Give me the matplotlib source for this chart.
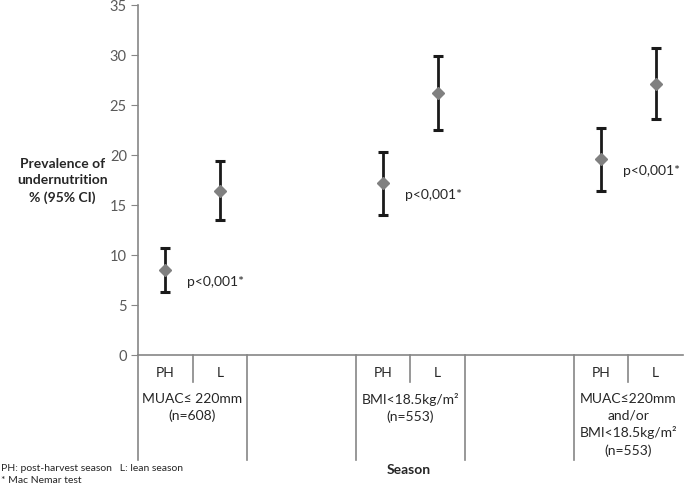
import matplotlib.pyplot as plt
import matplotlib.transforms as mtransforms

plt.rcParams["font.family"] = ["Lato", "DejaVu Sans"]

# slot positions along the x axis (10 equal slots, blanks between groups)
positions = [0, 1, 4, 5, 8, 9]
seasons = ["PH", "L", "PH", "L", "PH", "L"]
prevalence = [8.5, 16.4, 17.2, 26.2, 19.6, 27.1]
ci_low = [6.3, 13.5, 14.0, 22.5, 16.4, 23.6]
ci_high = [10.7, 19.4, 20.3, 29.9, 22.7, 30.7]

group_labels = ["MUAC\u2264 220mm\n(n=608)",
                "BMI<18.5kg/m\u00b2\n(n=553)",
                "MUAC\u2264220mm\nand/or\nBMI<18.5kg/m\u00b2\n(n=553)"]
group_centers = [0.5, 4.5, 8.5]
p_labels = ["p<0,001*", "p<0,001*", "p<0,001*"]
p_at = [0, 2, 4]  # index of the PH point each p-value sits next to

grey = "#595959"
axis_grey = "#868686"

fig = plt.figure(figsize=(6.85, 4.85), dpi=100)
ax = fig.add_axes([0.2015, 0.2666, 0.7955, 0.7216])

err_lo = [p - l for p, l in zip(prevalence, ci_low)]
err_hi = [h - p for p, h in zip(prevalence, ci_high)]
ax.errorbar(positions, prevalence, yerr=[err_lo, err_hi], fmt="D",
            color="#808080", ms=6, ecolor="#1a1a1a", elinewidth=2.0,
            capsize=3.5, capthick=2.2, zorder=3)

for i, lab in zip(p_at, p_labels):
    ax.text(positions[i] + 0.4, prevalence[i] - 1.1, lab, fontsize=10,
            color="#262626", va="center", ha="left")

ax.set_xlim(-0.5, 9.5)
ax.set_ylim(0, 35)
ax.set_yticks(range(0, 36, 5))
ax.tick_params(axis="y", direction="out", length=5, color=axis_grey,
               labelcolor=grey, labelsize=10.5, pad=3)
ax.set_xticks([])
for s in ["top", "right"]:
    ax.spines[s].set_visible(False)
for s in ["left", "bottom"]:
    ax.spines[s].set_color(axis_grey)
    ax.spines[s].set_linewidth(1.2)

# category table below the axis
trans = mtransforms.blended_transform_factory(ax.transData, ax.transAxes)
short_lines = [0.5, 4.5, 8.5]
long_lines = [-0.5, 1.5, 3.5, 5.5, 7.5]
for x in short_lines:
    ax.plot([x, x], [0, -0.078], transform=trans, color=axis_grey,
            lw=1.2, clip_on=False)
for x in long_lines:
    ax.plot([x, x], [0, -0.3], transform=trans, color=axis_grey,
            lw=1.2, clip_on=False)

for x, lab in zip(positions, seasons):
    ax.text(x, -0.05, lab, transform=trans, ha="center", va="center",
            fontsize=10, color="#262626")
for x, lab in zip(group_centers, group_labels):
    ax.text(x, -0.106, lab, transform=trans, ha="center", va="top",
            fontsize=10, color="#262626", linespacing=1.45)

fig.text(0.596, 0.031, "Season", ha="center", va="center",
         fontsize=10, fontweight="bold", color="#262626")
fig.text(0.091, 0.627, "Prevalence of\nundernutrition\n% (95% CI)",
         ha="center", va="center", fontsize=10, fontweight="bold",
         color="#262626", linespacing=1.45)
fig.text(0.002, 0.035, "PH: post-harvest season   L: lean season",
         ha="left", va="center", fontsize=7.5, color="#262626")
fig.text(0.002, 0.01, "* Mac Nemar test", ha="left", va="center",
         fontsize=7.5, color="#262626")

fig.savefig("out.png", dpi=100)
